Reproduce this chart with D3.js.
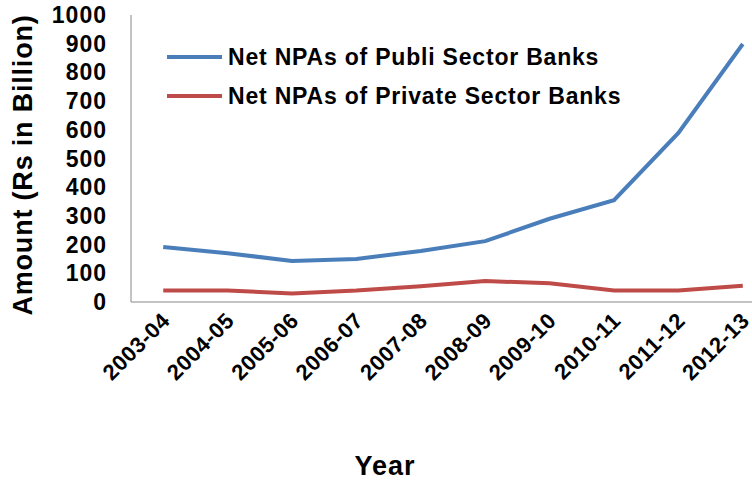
<!DOCTYPE html>
<html><head><meta charset="utf-8">
<script src="https://cdn.jsdelivr.net/npm/d3@7"></script>
<style>body{margin:0;background:#fff}text{font-family:"Liberation Sans",Arial,sans-serif;font-weight:bold}</style>
</head><body><div id="chart"></div>
<script>
var years = ["2003-04","2004-05","2005-06","2006-07","2007-08","2008-09","2009-10","2010-11","2011-12","2012-13"];
var publicNPA = [192, 170, 143, 150, 178, 212, 290, 355, 589, 899];
var privateNPA = [40, 40, 30, 40, 55, 73, 65, 40, 40, 57];
var yTicks = [0,100,200,300,400,500,600,700,800,900,1000];

var W = 752, H = 483;
var svg = d3.select("#chart").append("svg").attr("width", W).attr("height", H);

var x = d3.scaleBand().domain(years).range([131, 775]);
var y = d3.scaleLinear().domain([0, 1000]).range([302, 15]);

svg.append("line").attr("x1",131).attr("x2",131).attr("y1",15).attr("y2",302).attr("stroke","#888");
svg.append("line").attr("x1",131).attr("x2",775).attr("y1",302).attr("y2",302).attr("stroke","#888");

svg.selectAll(".yt").data(yTicks).enter().append("text")
  .attr("x", 137).attr("y", function(d){ return y(d) + 8; })
  .attr("text-anchor","end").attr("font-size", 23).attr("letter-spacing", 1).text(function(d){ return d; })
  .attr("x", 107);

svg.selectAll(".xt").data(years).enter().append("text")
  .attr("text-anchor","end").attr("font-size", 22).attr("letter-spacing", 0.5)
  .attr("transform", function(d){ return "translate(" + (x(d) + x.bandwidth()/2 + 8) + ",322)rotate(-45)"; })
  .text(function(d){ return d; });

var line = d3.line().x(function(d, i){ return x(years[i]) + x.bandwidth()/2; }).y(function(d){ return y(d); });

svg.append("path").datum(publicNPA).attr("d", line).attr("fill","none").attr("stroke","#4a7ebb").attr("stroke-width",4);
svg.append("path").datum(privateNPA).attr("d", line).attr("fill","none").attr("stroke","#be4b48").attr("stroke-width",4);

var legend = [["Net NPAs of Publi Sector Banks","#4a7ebb"],["Net NPAs of Private Sector Banks","#be4b48"]];
legend.forEach(function(l, i){
  var ly = 57 + i*39;
  svg.append("line").attr("x1",167).attr("x2",222).attr("y1",ly).attr("y2",ly).attr("stroke",l[1]).attr("stroke-width",4);
  svg.append("text").attr("x",228).attr("y",ly+8).attr("font-size",23).attr("letter-spacing",0.8).text(l[0]);
});

svg.append("text").attr("font-size", 27).attr("text-anchor","middle").attr("letter-spacing",0.8)
  .attr("transform","translate(32,165)rotate(-90)").text("Amount (Rs in Billion)");
svg.append("text").attr("font-size", 27).attr("text-anchor","middle").attr("letter-spacing",1).attr("x",385).attr("y",475).text("Year");
</script></body></html>
